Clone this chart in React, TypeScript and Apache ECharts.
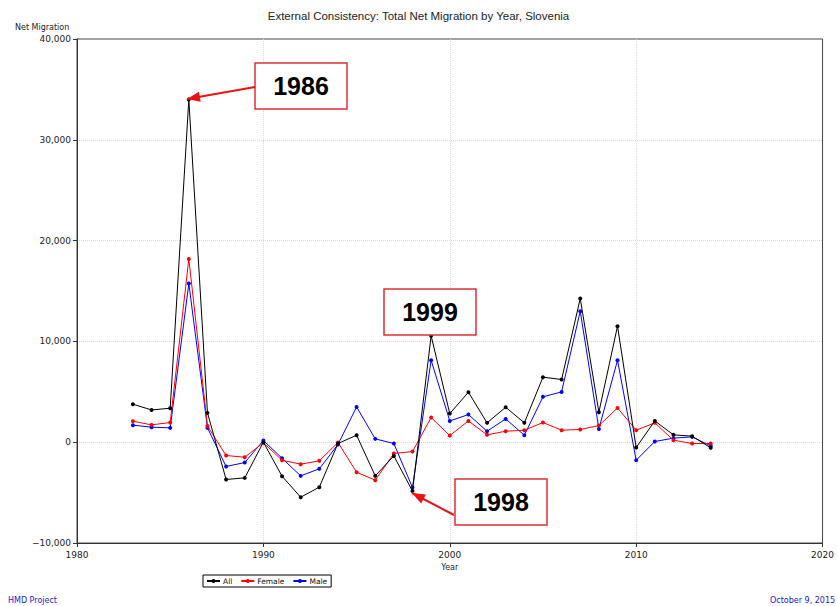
import React, { useEffect, useRef } from "react";
import * as echarts from "echarts";

const years = [1983, 1984, 1985, 1986, 1987, 1988, 1989, 1990, 1991, 1992, 1993, 1994, 1995, 1996, 1997, 1998, 1999, 2000, 2001, 2002, 2003, 2004, 2005, 2006, 2007, 2008, 2009, 2010, 2011, 2012, 2013, 2014];
const allValues = [3770, 3200, 3370, 34000, 2910, -3700, -3540, 0, -3370, -5460, -4460, -130, 690, -3340, -1360, -4850, 10550, 2840, 4960, 1920, 3470, 1920, 6450, 6220, 14250, 2980, 11510, -530, 2110, 730, 600, -560];
const femaleValues = [2080, 1720, 1950, 18180, 1600, -1320, -1490, -50, -1790, -2180, -1850, -30, -2980, -3770, -1120, -930, 2450, 660, 2110, 730, 1090, 1190, 1950, 1190, 1260, 1650, 3400, 1190, 1920, 200, -130, -130];
const maleValues = [1690, 1490, 1420, 15740, 1420, -2410, -2020, 170, -1590, -3340, -2640, -230, 3500, 330, -130, -4500, 8130, 2110, 2740, 1090, 2310, 690, 4500, 4990, 13000, 1320, 8130, -1790, 70, 400, 530, -360];
const seriesNames = ["All", "Female", "Male"];
const seriesColors = ["#000000", "#ff0000", "#0000ff"];
const annotations = [
  { label: "1986", box: [255, 63, 92, 46], tail: [255, 87], tip: [187, 99] },
  { label: "1999", box: [384, 289, 92, 46], tail: null, tip: null },
  { label: "1998", box: [455, 479, 92, 46], tail: [454, 515], tip: [412, 493] },
];

function arrowHead(tip: number[], tail: number[]) {
  const dx = tail[0] - tip[0];
  const dy = tail[1] - tip[1];
  const len = Math.sqrt(dx * dx + dy * dy);
  const ux = dx / len, uy = dy / len;
  const bx = tip[0] + ux * 13, by = tip[1] + uy * 13;
  const px = -uy * 5, py = ux * 5;
  return [tip, [bx + px, by + py], [bx - px, by - py]];
}

export default function App() {
  const ref = useRef<HTMLDivElement>(null);
  useEffect(() => {
    if (!ref.current) return;
    const chart = echarts.init(ref.current, null, { renderer: "svg" });
    const dataSets = [allValues, femaleValues, maleValues];
    const graphics: any[] = [];
    annotations.forEach((a) => {
      graphics.push({
        type: "rect",
        shape: { x: a.box[0], y: a.box[1], width: a.box[2], height: a.box[3] },
        style: { fill: "#fff", stroke: "#e03030", lineWidth: 1.5 },
        z: 100,
      });
      graphics.push({
        type: "text",
        x: a.box[0] + a.box[2] / 2,
        y: a.box[1] + a.box[3] / 2,
        style: {
          text: a.label,
          font: "bold 25px 'Liberation Sans', Arial, sans-serif",
          fill: "#000",
          align: "center",
          verticalAlign: "middle",
        },
        z: 101,
      });
      if (a.tail && a.tip) {
        graphics.push({
          type: "line",
          shape: { x1: a.tail[0], y1: a.tail[1], x2: a.tip[0], y2: a.tip[1] },
          style: { stroke: "#ee1111", lineWidth: 2 },
          z: 100,
        });
        graphics.push({
          type: "polygon",
          shape: { points: arrowHead(a.tip, a.tail) },
          style: { fill: "#ee1111" },
          z: 100,
        });
      }
    });
    graphics.push({
      type: "text",
      left: 15,
      top: 23,
      style: { text: "Net Migration", font: "8px 'DejaVu Sans', sans-serif", fill: "#222" },
    });
    graphics.push({
      type: "text",
      x: 8,
      y: 600,
      style: { text: "HMD Project", font: "8px 'DejaVu Sans', sans-serif", fill: "#2020cc", verticalAlign: "middle" },
    });
    graphics.push({
      type: "text",
      x: 770,
      y: 600,
      style: { text: "October 9, 2015", font: "8px 'DejaVu Sans', sans-serif", fill: "#2020cc", verticalAlign: "middle" },
    });

    chart.setOption({
      animation: false,
      backgroundColor: "#fff",
      title: {
        text: "External Consistency: Total Net Migration by Year, Slovenia",
        left: "center",
        top: 5,
        textStyle: { fontSize: 11.5, fontWeight: "normal", color: "#222", fontFamily: "'Liberation Sans', Arial, sans-serif" },
      },
      grid: {
        left: 77,
        right: 11,
        top: 39,
        bottom: 63,
        show: true,
        borderColor: "#444",
        borderWidth: 1,
      },
      legend: {
        data: seriesNames,
        left: 203,
        top: 575,
        itemWidth: 13,
        itemHeight: 5,
        itemGap: 8,
        padding: [2, 4, 2, 3],
        borderColor: "#000",
        borderWidth: 1,
        borderRadius: 0,
        textStyle: { fontSize: 7.5, color: "#111", fontFamily: "'DejaVu Sans', sans-serif", padding: [0, 0, 0, -2] },
      },
      xAxis: {
        type: "value",
        min: 1980,
        max: 2020,
        interval: 10,
        name: "Year",
        nameLocation: "middle",
        nameGap: 20,
        nameTextStyle: { fontSize: 8, color: "#222", fontFamily: "'DejaVu Sans', sans-serif" },
        axisLine: { onZero: false, lineStyle: { color: "#333" } },
        axisTick: { show: true, length: 4, lineStyle: { color: "#333" } },
        axisLabel: { fontSize: 9, color: "#222", margin: 7, fontFamily: "'DejaVu Sans', sans-serif", formatter: (v: number) => String(v) },
        splitLine: { show: true, showMinLine: false, showMaxLine: false, lineStyle: { type: "dotted", color: "#d8d8d8" } },
      },
      yAxis: {
        type: "value",
        min: -10000,
        max: 40000,
        interval: 10000,
        axisLine: { show: true, onZero: false, lineStyle: { color: "#333" } },
        axisTick: { show: true, length: 4, lineStyle: { color: "#333" } },
        axisLabel: {
          fontSize: 9,
          color: "#222",
          margin: 6,
          fontFamily: "'DejaVu Sans', sans-serif",
          formatter: (v: number) => (v < 0 ? "\u2212" : "") + Math.abs(v).toLocaleString("en-US"),
        },
        splitLine: { show: true, showMinLine: false, showMaxLine: false, lineStyle: { type: "dotted", color: "#d8d8d8" } },
      },
      series: seriesNames.map((name, i) => ({
        name,
        type: "line",
        data: years.map((y, j) => [y, dataSets[i][j]]),
        symbol: "circle",
        symbolSize: 4,
        color: seriesColors[i],
        lineStyle: { width: 1, color: seriesColors[i] },
        itemStyle: { color: seriesColors[i] },
        z: 10 - i,
      })),
      graphic: graphics,
    });
    return () => chart.dispose();
  }, []);
  return <div ref={ref} style={{ position: "fixed", left: 0, top: 0, width: 837, height: 606 }} />;
}
